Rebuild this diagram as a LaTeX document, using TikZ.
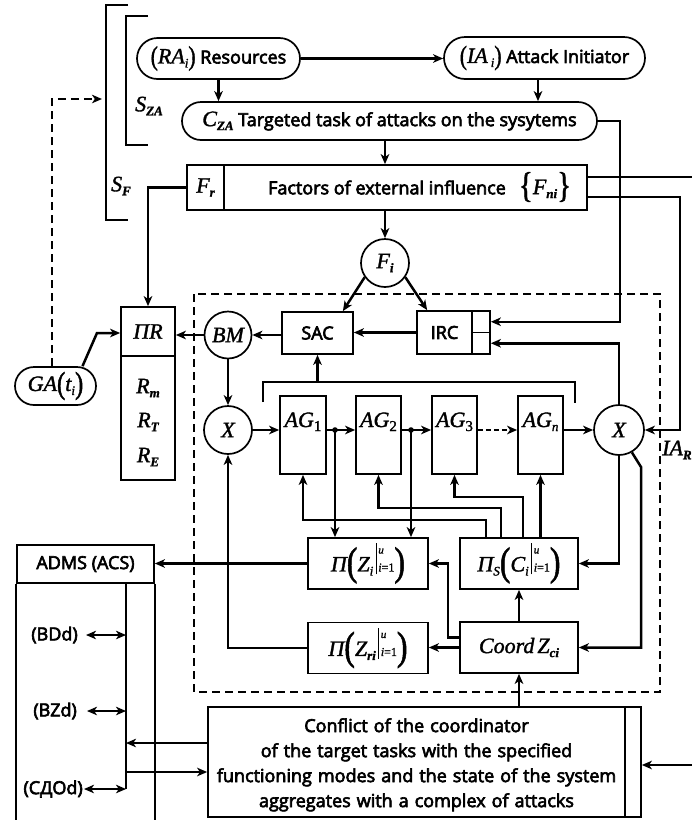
\documentclass[tikz,border=0pt]{standalone}
\usepackage{fontspec}
\usepackage{graphicx}
\newfontfamily\sfnt{Open Sans}[FakeBold=3.5]
\newfontfamily\mathf{Liberation Serif}[FakeBold=1.5]
\usetikzlibrary{arrows.meta,shapes.misc}

\newcommand\txt{\fontsize{18}{21}\selectfont\sfnt}
\newcommand\mv[1]{{\fontsize{22}{22}\selectfont\mathf\itshape #1}}
\newcommand\ms[1]{\raisebox{-4pt}{\fontsize{13}{13}\selectfont\mathf\itshape #1}}
\newcommand\msb[1]{\raisebox{-4pt}{\fontsize{13}{13}\selectfont\mathf\bfseries\itshape #1}}
\newcommand\msu[1]{\raisebox{-4pt}{\fontsize{15}{15}\selectfont\mathf #1}}
\newcommand\lpar[2]{\raisebox{#2}{\scalebox{0.8}[1]{\fontsize{#1}{#1}\selectfont\mathf(}}}
\newcommand\rpar[2]{\raisebox{#2}{\scalebox{0.8}[1]{\fontsize{#1}{#1}\selectfont\mathf)}}}
\newcommand\lbrc[2]{\raisebox{#2}{\scalebox{0.8}[1]{\fontsize{#1}{#1}\selectfont\mathf\{}}}
\newcommand\rbrc[2]{\raisebox{#2}{\scalebox{0.8}[1]{\fontsize{#1}{#1}\selectfont\mathf\}}}}
\newcommand\evb{\hspace{2.5pt}\rule[-3pt]{1pt}{31pt}\hspace{1.5pt}\rlap{\raisebox{18pt}{\fontsize{11}{11}\selectfont\mathf\itshape u}}{\fontsize{12}{12}\selectfont\mathf{\itshape i}=1}}

\tikzset{
  every node/.style={font=\txt, inner sep=0pt},
  bx/.style 2 args={draw,line width=1.7pt,rectangle,minimum width=#1pt,minimum height=#2pt,inner sep=0pt},
  rr/.style 2 args={draw,line width=1.7pt,rounded rectangle,minimum width=#1pt,minimum height=#2pt,inner sep=0pt},
  cc/.style={draw,line width=1.7pt,circle,minimum size=#1pt,inner sep=0pt},
  ln/.style={line width=2.5pt},
  ar/.style={ln,-{Stealth[length=10pt,width=8.5pt,inset=2.8pt]}},
  dar/.style={ln,{Stealth[length=10pt,width=8.5pt,inset=2.8pt]}-{Stealth[length=10pt,width=8.5pt,inset=2.8pt]}},
  dsh/.style={line width=2.4pt,dash pattern=on 8pt off 5pt},
  thin/.style={line width=1.7pt},
}

\begin{document}
\begin{tikzpicture}[x=1pt,y=-1pt]
\useasboundingbox (0,0) rectangle (692,820);

% brackets
\draw[thin] (128,5) -- (106,5) -- (106,220) -- (128,220);
\draw[thin] (148,16) -- (126,16) -- (126,145) -- (148,145);
\node (SF) at (121,186) {\mv{S}\msb{F}};
\node (SZA) at (149,106) {\mv{S}\msb{ZA}};

% dashed frame
\draw[dsh] (194,294) rectangle (660,692);

% top nodes
\node[rr={163}{41}] (RA) at (218.5,58.5) {\lpar{27}{-1.5pt}\mv{RA}\ms{i}\rpar{27}{-1.5pt} Resources};
\node[rr={201}{42}] (IA) at (544.5,58) {\lpar{27}{-1.5pt}\mv{IA}\,\ms{i}\rpar{27}{-1.5pt} Attack Initiator};
\node[rr={415}{38}] (CZA) at (389.5,121) {\mv{C}\msb{ZA} Targeted task of attacks on the sysytems};
\node[bx={400}{45}] (Fac) at (387,187.5) {Factors of external influence};
\node[bx={37}{45}] (Fr) at (205.5,187.5) {\mv{F}\msb{r}};
\node (Fni) at (545,187) {\lbrc{36}{-3pt}\mv{F}\msb{ni}\rbrc{36}{-3pt}};
\node[cc=48] (Fi) at (385,263) {\mv{F}\msb{i}};

\node[bx={71}{42}] (SAC) at (317.5,333) {SAC};
\node[bx={55}{43}] (IRC) at (444.5,332.5) {IRC};
\node[bx={18}{21.5}] (IRCa) at (481,321.75) {};
\node[bx={18}{21.5}] (IRCb) at (481,343.25) {};
\node[cc=47] (BM) at (228,335) {\mv{BM}};

\node[bx={54}{49}] (PR) at (148,331.5) {\mv{ΠR}};
\node[bx={54}{124}] (PRb) at (148,418) {};
\node (Rm) at (148,388) {\mv{R}\msb{m}};
\node (RT) at (148,422) {\mv{R}\msb{T}};
\node (RE) at (148,457) {\mv{R}\msb{E}};

\node[rr={81}{38}] (GA) at (55.5,386) {\mv{GA}\lpar{31}{-2.5pt}\mv{t}\ms{i}\rpar{31}{-2.5pt}};

\node[cc=48] (Xl) at (228,430) {\mv{X}};
\node[cc=50] (Xr) at (619,430) {\mv{X}};

\node[bx={46}{78}] (AG1) at (303,435) {};
\node[bx={45}{78}] (AG2) at (378.5,435) {};
\node[bx={45}{78}] (AG3) at (454.5,435) {};
\node[bx={45}{78}] (AGn) at (540.5,435) {};
\node[anchor=base] (AG1t) at (303,427) {\mv{AG}\msu{1}};
\node[anchor=base] (AG2t) at (378.5,427) {\mv{AG}\msu{2}};
\node[anchor=base] (AG3t) at (454.5,427) {\mv{AG}\msu{3}};
\node[anchor=base] (AGnt) at (540.5,427) {\mv{AG}\ms{n}};

\node[bx={120}{51}] (PZi) at (368,563.5) {\mv{Π}\lpar{40}{-3.6pt}\mv{Z}\ms{i}\evb\rpar{40}{-3.6pt}};
\node[bx={118}{51}] (PS) at (519,563.5) {\mv{Π}\ms{S}\lpar{40}{-3.6pt}\mv{C}\ms{i}\evb\rpar{40}{-3.6pt}};
\node[bx={120}{51}] (PZr) at (368,648) {\mv{Π}\lpar{40}{-3.6pt}\mv{Z}\msb{ri}\evb\rpar{40}{-3.6pt}};
\node[bx={118}{51}] (Coord) at (519,647.5) {\mv{Coord}\,\mv{Z}\msb{ci}};

\node[bx={417}{110},align=center,text width=410pt,font=\fontsize{18}{25}\selectfont\sfnt] (Conf) at (416.5,762)
  {\rule{0pt}{19.5pt}Conflict of the coordinator\\ of the target tasks with the specified\\ functioning modes and the state of the system\\ aggregates with a complex of attacks};
\node[bx={16}{110}] (ConfR) at (633,762) {};

\node[bx={137}{38}] (ADMS) at (85.5,564) {ADMS (ACS)};
\coordinate (admsin) at (126,583);
\draw[thin] (ADMS.south west) -- ++(0,250);
\draw[thin] (ADMS.south east) -- ++(0,250);
\draw[thin] (admsin) -- (126,789);

\node[anchor=east] (BDd) at (78,635) {(BDd)};
\node[anchor=east] (BZd) at (77,711) {(BZd)};
\node[anchor=east] (SDO) at (83,789) {(СДОd)};
\draw[dar] ([xshift=8]BDd.east) -- (BDd.east -| admsin);
\draw[dar] ([xshift=10]BZd.east) -- (BZd.east -| admsin);
\draw[dar] ([xshift=1]SDO.east) -- (SDO.east -| admsin);

\node[anchor=west] (IAR) at (662,450) {\mv{IA}\msb{R}};

% coordinates
\coordinate (gaknee) at (97,333);
\coordinate (sfarr) at (102,99);
\coordinate (k1) at (620,0);
\coordinate (k2) at (680,0);
\coordinate (k5) at (641,467);
\coordinate (edgeU) at (700,177);
\coordinate (edgeB) at (700,765);
\coordinate (agbr) at (317.5,382);
\coordinate (d1) at (335,430);
\coordinate (d2) at (411,430);
\coordinate (ias) at ([xshift=-6.5]IA.south);
\coordinate (cw2) at ([yshift=-10]Conf.west);

% connectors top
\draw[ar] (RA.east) -- (RA.east -| IA.west);
\draw[ar] (RA.south) -- (RA.south |- CZA.north);
\draw[ar] (ias) -- (ias |- CZA.north);
\draw[ar] (CZA.south -| Fi.north) -- (Fac.north -| Fi.north);
\draw[ar] (Fac.south -| Fi.north) -- (Fi.north);
\draw[ar] (Fi.215) -- ([xshift=-11]SAC.north east);
\draw[ar] (Fi.325) -- ([xshift=11]IRC.north west);
\draw[ar] (CZA.east) -| (k1 |- IRCa.east) -- (IRCa.east);
\draw[ln] ([yshift=10.5]Fac.east) -- (edgeU);
\draw[ar] ([yshift=-9.5]Fac.east) -| (k2 |- Xr.east) -- (Xr.east);
\draw[ar] (Fr.west) -| (PR.north);
\draw[dsh,-{Stealth[length=10pt,width=8.5pt,inset=2.8pt]}] ([xshift=-3.5]GA.north) |- (sfarr);
\draw[ar] ([xshift=27]GA.north) -- (gaknee) -- (gaknee -| PR.west);

% inner
\draw[ar] (IRC.west) -- (IRC.west -| SAC.east);
\draw[ar] (BM.east -| SAC.west) -- (BM.east);
\draw[ar] (BM.west) -- (BM.west -| PR.east);
\draw[ar] (BM.south) -- (Xl.north);
\draw[ar] (Xr.north) |- (IRCb.east);
\draw[thin] (263,402) -- (263,382) -- (575,382) -- (575,403);
\draw[ar] (agbr) -- (SAC.south);

\draw[ar] (Xl.east) -- (Xl.east -| AG1.west);
\draw[ar] (AG1.east |- d1) -- (AG2.west |- d1);
\draw[ar] (AG2.east |- d2) -- (AG3.west |- d2);
\draw[ar,dash pattern=on 5pt off 3pt] (AG3.east |- d2) -- (AGn.west |- d2);
\draw[ar] (AGn.east |- d2) -- (Xr.west);
\fill (d1) circle (2.8);
\fill (d2) circle (2.8);
\draw[ar] (d1) -- (d1 |- PZi.north);
\draw[ar] (d2) -- (d2 |- PZi.north);

\draw[ar] (PS.north -| AGn.south) -- (AGn.south);
\draw[ar] ([xshift=4]PS.north) |- ([yshift=-22]AG3.south) -- (AG3.south);
\draw[ar] ([xshift=-18]PS.north) |- ([yshift=-33]AG2.south) -- (AG2.south);
\draw[ar] ([xshift=-33]PS.north) |- ([yshift=-45]AG1.south) -- (AG1.south);

\draw[ar] (PZi.west) -- (PZi.west -| ADMS.east);
\draw[ar] (PZr.west) -| (Xl.south);
\draw[ar] (Coord.west) -- (Coord.west -| PZr.east);
\draw[ar] ([yshift=10]Coord.west) -| ([xshift=19]PZi.east) -- (PZi.east);
\draw[ar] (Coord.north) -- (PS.south);
\draw[ar] (Xr.south) |- (PS.east);
\draw[ar] (Xr.-60) -- (k5) |- (Coord.east);
\draw[ar] (Coord.south |- Conf.north) -- (Coord.south);

\draw[ar] ([yshift=19]Conf.west) -- ([yshift=19]Conf.west -| admsin);
\draw[ar] (cw2 -| admsin) -- (cw2);
\draw[ar] (edgeB) -- (edgeB -| ConfR.east);
\end{tikzpicture}
\end{document}
